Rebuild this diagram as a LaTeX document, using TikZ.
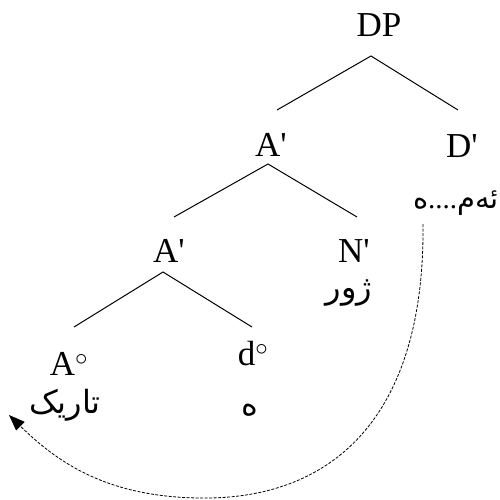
\documentclass[tikz,border=0pt]{standalone}
\usepackage{fontspec}
\setmainfont{Liberation Serif}[Ligatures=TeXOff]
\newfontfamily\kur[Script=Arabic]{DejaVu Sans}
\TeXXeTstate=1
\usetikzlibrary{arrows.meta}
\begin{document}
\begin{tikzpicture}[x=1pt,y=-1pt,
  lat/.style={inner sep=0pt,anchor=base,font=\fontsize{35}{40}\selectfont},
  kd/.style={inner sep=0pt,font=\kur\fontsize{32}{38}\selectfont},
  branch/.style={line width=1pt},
  mv/.style={line width=0.8pt,dash pattern=on 3pt off 1.5pt,-{Triangle[length=16pt,width=12pt]}}]
\useasboundingbox (0,0) rectangle (500,500);
% category labels
\node[lat] (DP) at (379,37) {DP};
\node[lat] (A1) at (271,156) {A'};
\node[lat] (D1) at (462,157) {D'};
\node[lat] (A2) at (169,262) {A'};
\node[lat] (N1) at (354,262) {N'};
\node[lat] (A0) at (69,375) {A$^\circ$};
\node[lat] (d0) at (253,365) {d$^\circ$};
% Kurdish words
\node[kd,anchor=east,font=\kur\fontsize{29}{34}\selectfont] (Dt) at (499,203)
  {\beginR ئەم{\rmfamily....}ە\endR};
\node[kd] (Nt) at (349,293.5) {\beginR ژور\endR};
\node[kd] (At) at (65,405) {\beginR تاریک\endR};
\node[kd] (dt) at (250,410) {\beginR ە\endR};
% branch points
\coordinate (DPv) at (371,56);
\coordinate (DPl) at (277,110);
\coordinate (DPr) at (458,110);
\coordinate (A1v) at (268,164);
\coordinate (A1l) at (174,217);
\coordinate (A1r) at (357,217);
\coordinate (A2v) at (163,272);
\coordinate (A2l) at (74,327);
\coordinate (A2r) at (252,327);
\draw[branch] (DPl) -- (DPv) -- (DPr);
\draw[branch] (A1l) -- (A1v) -- (A1r);
\draw[branch] (A2l) -- (A2v) -- (A2r);
% movement arrow
\coordinate (mvs) at (423,224);
\coordinate (mve) at (9,415);
\draw[mv] (mvs) .. controls (425,420) and (330,500) .. (200,498)
  .. controls (110,497) and (60,465) .. (mve);
\end{tikzpicture}
\end{document}
